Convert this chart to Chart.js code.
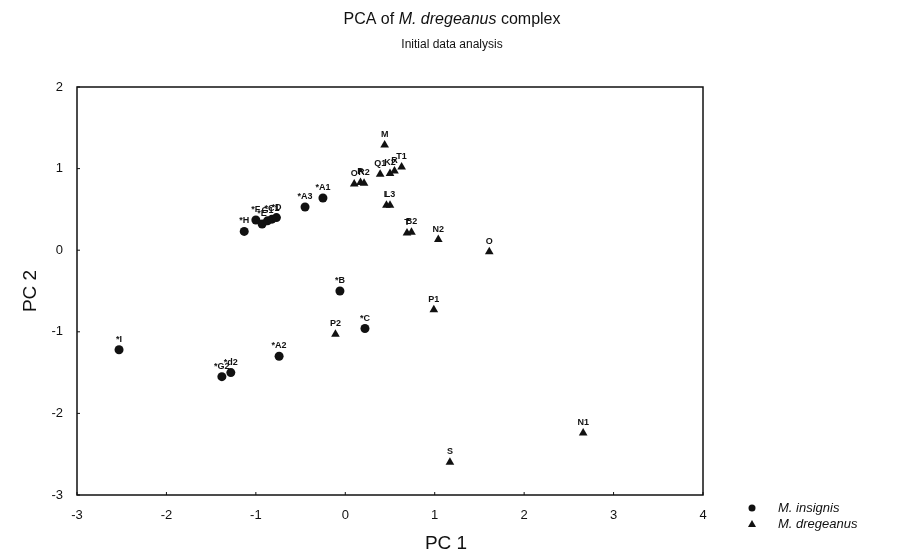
<!DOCTYPE html>
<html>
<head>
<meta charset="utf-8">
<script src="https://cdn.jsdelivr.net/npm/chart.js@4.4.1/dist/chart.umd.min.js"></script>
<style>
  body { margin: 0; background: #fff; }
  #pca { display: block; }
</style>
</head>
<body>
<canvas id="pca" width="898" height="560"></canvas>
<script>
// M. insignis (circles)
const insignisLabels = ["*I", "*G2", "*d2", "*A2", "*C", "*B", "*A1", "*A3", "*H", "*F", "*E", "G1", "*C1", "*D"];
const insignisX = [-2.53, -1.38, -1.28, -0.74, 0.22, -0.06, -0.25, -0.45, -1.13, -1.0, -0.93, -0.87, -0.82, -0.77];
const insignisY = [-1.22, -1.55, -1.5, -1.3, -0.96, -0.5, 0.64, 0.53, 0.23, 0.37, 0.32, 0.36, 0.38, 0.4];

// M. dregeanus (triangles)
const dregeanusLabels = ["P2", "P1", "S", "N1", "O", "N2", "T", "B2", "L", "L3", "M", "Q1", "K2", "R", "T1", "O", "R", "R2"];
const dregeanusX = [-0.11, 0.99, 1.17, 2.66, 1.61, 1.04, 0.69, 0.74, 0.46, 0.5, 0.44, 0.39, 0.5, 0.55, 0.63, 0.1, 0.17, 0.21];
const dregeanusY = [-1.03, -0.73, -2.6, -2.24, -0.02, 0.13, 0.21, 0.22, 0.55, 0.55, 1.29, 0.93, 0.94, 0.97, 1.02, 0.81, 0.83, 0.82];

const xTicks = [-3, -2, -1, 0, 1, 2, 3, 4];
const yTicks = [-3, -2, -1, 0, 1, 2];

function toPoints(xs, ys, labels) {
  var pts = [];
  for (var i = 0; i < xs.length; i++) {
    pts.push({ x: xs[i], y: ys[i], label: labels[i] });
  }
  return pts;
}

const FONT = "'Liberation Sans', Arial, sans-serif";

// titles, frame, inward ticks, point labels and the legend
const decorations = {
  id: 'decorations',
  afterDraw(chart) {
    const ctx = chart.ctx;
    const area = chart.chartArea;
    const xs = chart.scales.x, ys = chart.scales.y;
    ctx.save();

    // frame
    ctx.strokeStyle = '#111';
    ctx.lineWidth = 1.5;
    ctx.strokeRect(area.left, area.top, area.right - area.left, area.bottom - area.top);

    // small inward ticks
    ctx.lineWidth = 1;
    xTicks.forEach(v => {
      const px = xs.getPixelForValue(v);
      ctx.beginPath(); ctx.moveTo(px, area.bottom); ctx.lineTo(px, area.bottom - 3); ctx.stroke();
    });
    yTicks.forEach(v => {
      const py = ys.getPixelForValue(v);
      ctx.beginPath(); ctx.moveTo(area.left, py); ctx.lineTo(area.left + 3, py); ctx.stroke();
    });

    // point labels
    ctx.fillStyle = '#111';
    ctx.font = "bold 9px " + FONT;
    ctx.textAlign = 'center';
    ctx.textBaseline = 'alphabetic';
    chart.data.datasets.forEach((ds, di) => {
      const meta = chart.getDatasetMeta(di);
      meta.data.forEach((el, i) => {
        ctx.fillText(ds.data[i].label, el.x, el.y - 8);
      });
    });

    // main title with italic species name
    const cx = 452;
    const parts = [["PCA of ", "normal"], ["M. dregeanus", "italic"], [" complex", "normal"]];
    let total = 0;
    parts.forEach(p => { ctx.font = p[1] + " 16px " + FONT; total += ctx.measureText(p[0]).width; });
    let tx = cx - total / 2;
    ctx.textAlign = 'left';
    ctx.textBaseline = 'middle';
    parts.forEach(p => {
      ctx.font = p[1] + " 16px " + FONT;
      ctx.fillText(p[0], tx, 20);
      tx += ctx.measureText(p[0]).width;
    });
    ctx.font = "12px " + FONT;
    ctx.textAlign = 'center';
    ctx.fillText("Initial data analysis", cx, 45);

    // x axis title
    ctx.font = "19px " + FONT;
    ctx.fillText("PC 1", 446, 544);

    // legend
    ctx.textAlign = 'left';
    ctx.font = "italic 13px " + FONT;
    ctx.beginPath(); ctx.arc(752, 508, 3.5, 0, Math.PI * 2); ctx.fill();
    ctx.fillText("M. insignis", 778, 508);
    ctx.beginPath();
    ctx.moveTo(752, 520); ctx.lineTo(756, 527); ctx.lineTo(748, 527); ctx.closePath(); ctx.fill();
    ctx.fillText("M. dregeanus", 778, 524);

    ctx.restore();
  }
};

new Chart(document.getElementById('pca'), {
  type: 'scatter',
  data: {
    datasets: [
      {
        label: 'M. insignis',
        data: toPoints(insignisX, insignisY, insignisLabels),
        pointStyle: 'circle',
        pointRadius: 4.5,
        backgroundColor: '#111',
        borderColor: '#111',
        borderWidth: 0
      },
      {
        label: 'M. dregeanus',
        data: toPoints(dregeanusX, dregeanusY, dregeanusLabels),
        pointStyle: 'triangle',
        pointRadius: 5,
        backgroundColor: '#111',
        borderColor: '#111',
        borderWidth: 0
      }
    ]
  },
  options: {
    responsive: false,
    devicePixelRatio: 1,
    animation: false,
    layout: { padding: { top: 87, right: 195, left: 0, bottom: 0 } },
    plugins: {
      legend: { display: false },
      title: { display: false },
      tooltip: { enabled: false }
    },
    scales: {
      x: {
        type: 'linear',
        min: -3,
        max: 4,
        afterFit: s => { s.height = 65; },
        afterBuildTicks: s => { s.ticks = xTicks.map(v => ({ value: v })); },
        grid: { display: false },
        border: { display: false },
        ticks: { color: '#111', font: { family: FONT, size: 13 }, padding: 5 }
      },
      y: {
        type: 'linear',
        min: -3,
        max: 2,
        afterFit: s => { s.width = 77; },
        afterBuildTicks: s => { s.ticks = yTicks.map(v => ({ value: v })); },
        grid: { display: false },
        border: { display: false },
        ticks: { color: '#111', font: { family: FONT, size: 13 }, padding: 6 },
        title: { display: true, text: 'PC 2', color: '#111', font: { family: FONT, size: 19 }, padding: { top: 19, bottom: 0 } }
      }
    }
  },
  plugins: [decorations]
});
</script>
</body>
</html>
